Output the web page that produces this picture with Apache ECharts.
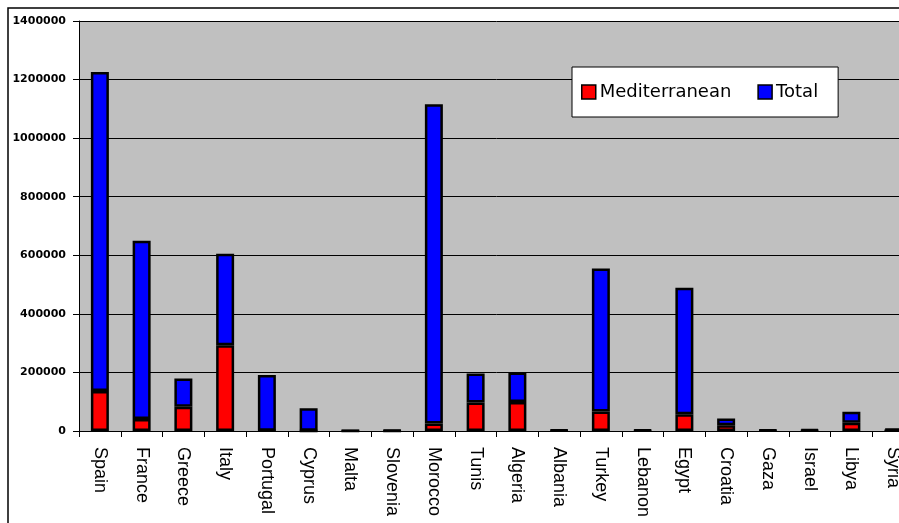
<!DOCTYPE html>
<html>
<head>
<meta charset="utf-8">
<script src="https://cdn.jsdelivr.net/npm/echarts@6/dist/echarts.min.js"></script>
<style>
html,body{margin:0;padding:0;overflow:hidden;background:#fff;width:899px;height:523px;}
#chart{width:960px;height:523px;}
</style>
</head>
<body>
<div id="chart"></div>
<script>
var categories = ['Spain','France','Greece','Italy','Portugal','Cyprus','Malta','Slovenia','Morocco','Tunis','Algeria','Albania','Turkey','Lebanon','Egypt','Croatia','Gaza','Israel','Libya','Syria'];
var mediterranean = [137000, 41000, 83000, 293000, 1000, 500, 500, 500, 26000, 97000, 99000, 1000, 67000, 1000, 57000, 19500, 1000, 1000, 28000, 2000];
var total = [1089000, 609000, 96000, 312000, 190000, 77000, 1500, 2000, 1090000, 99000, 101000, 2500, 488000, 3500, 432000, 23000, 2500, 4000, 38000, 7000];
var yTicks = { min: 0, max: 1400000, interval: 200000 };

var chart = echarts.init(document.getElementById('chart'), null, { renderer: 'canvas' });
chart.setOption({
  backgroundColor: '#ffffff',
  animation: false,
  graphic: [{
    type: 'rect',
    shape: { x: 8, y: 8, width: 2000, height: 2000 },
    style: { fill: 'none', stroke: '#000', lineWidth: 1.5 },
    z: 100
  }],
  grid: { left: 79, top: 21, width: 835, height: 410, show: true, backgroundColor: '#C0C0C0', borderWidth: 0 },
  legend: {
    left: 572, top: 67,
    orient: 'horizontal',
    backgroundColor: '#ffffff',
    borderColor: '#000', borderWidth: 1,
    padding: [16, 20, 16, 9],
    itemWidth: 14, itemHeight: 14, itemGap: 26,
    icon: 'rect',
    itemStyle: { borderColor: '#000', borderWidth: 1.5 },
    textStyle: { fontFamily: 'DejaVu Sans', fontSize: 18, color: '#000', padding: [0, 0, 0, -1] },
    data: ['Mediterranean', 'Total']
  },
  xAxis: {
    type: 'category',
    data: categories,
    boundaryGap: true,
    axisLine: { lineStyle: { color: '#000', width: 1 } },
    axisTick: { show: true, interval: 0, length: 6, lineStyle: { color: '#000' } },
    axisLabel: { interval: 0, rotate: -90, margin: 16, fontFamily: 'Liberation Sans', fontSize: 18, color: '#000' },
    splitLine: { show: false }
  },
  yAxis: {
    type: 'value',
    min: yTicks.min, max: yTicks.max, interval: yTicks.interval,
    axisLine: { show: true, lineStyle: { color: '#000', width: 1 } },
    axisTick: { show: true, length: 6, lineStyle: { color: '#000' } },
    axisLabel: { margin: 13, fontFamily: 'DejaVu Sans', fontWeight: 'bold', fontSize: 11, color: '#000',
      formatter: function (v) { return String(v); } },
    splitLine: { show: true, lineStyle: { color: '#000', width: 1 } }
  },
  series: [
    { name: 'Mediterranean', type: 'bar', stack: 'a', data: mediterranean, barWidth: 18,
      itemStyle: { color: '#FF0000', borderColor: '#000', borderWidth: 2.5 } },
    { name: 'Total', type: 'bar', stack: 'a', data: total, barWidth: 18,
      itemStyle: { color: '#0000FF', borderColor: '#000', borderWidth: 2.5 } }
  ]
});
</script>
</body>
</html>
